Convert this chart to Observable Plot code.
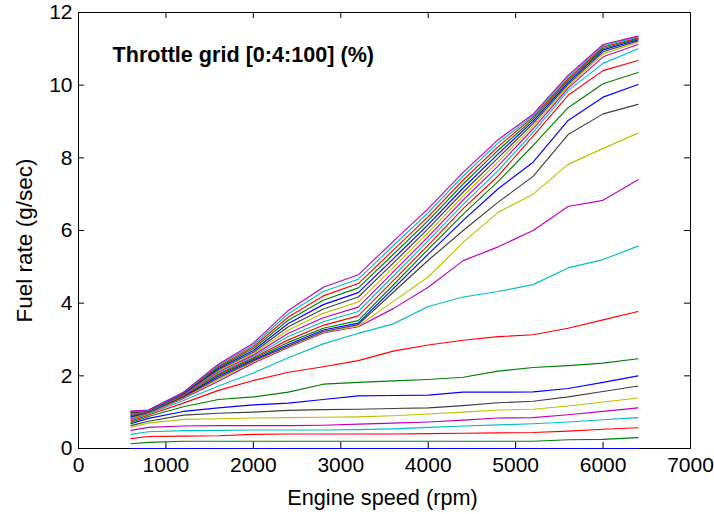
<!DOCTYPE html>
<html><head><meta charset="utf-8">
<script src="https://cdn.jsdelivr.net/npm/d3@7"></script>
<script src="https://cdn.jsdelivr.net/npm/@observablehq/plot@0.6"></script>
<style>html,body{margin:0;padding:0;background:#fff}svg{display:block}</style>
</head><body><div id="chart"></div>
<script>
const speeds = [600, 800, 1200, 1600, 2000, 2400, 2800, 3200, 3600, 4000, 4400, 4800, 5200, 5600, 6000, 6400];
const throttles = [0, 4, 8, 12, 16, 20, 24, 28, 32, 36, 40, 44, 48, 52, 56, 60, 64, 68, 72, 76, 80, 84, 88, 92, 96, 100];
const fuelRate = [
  [0,0,0,0,0,0,0,0,0,0,0,0,0,0,0,0],
  [0.13,0.17,0.2,0.2,0.2,0.2,0.2,0.2,0.2,0.2,0.2,0.2,0.2,0.24,0.25,0.3],
  [0.27,0.33,0.34,0.35,0.39,0.4,0.4,0.4,0.4,0.41,0.42,0.43,0.44,0.48,0.53,0.57],
  [0.39,0.46,0.49,0.5,0.51,0.51,0.51,0.52,0.54,0.58,0.62,0.65,0.68,0.73,0.79,0.85],
  [0.5,0.58,0.62,0.63,0.63,0.63,0.64,0.67,0.7,0.73,0.78,0.84,0.85,0.93,1.02,1.12],
  [0.58,0.7,0.8,0.82,0.84,0.85,0.86,0.87,0.9,0.95,1.0,1.06,1.08,1.17,1.28,1.39],
  [0.63,0.75,0.92,0.97,1.0,1.05,1.07,1.08,1.1,1.12,1.18,1.26,1.3,1.42,1.57,1.72],
  [0.68,0.83,1.02,1.12,1.2,1.25,1.35,1.45,1.46,1.47,1.55,1.55,1.56,1.65,1.82,2.0],
  [0.72,0.88,1.15,1.35,1.42,1.55,1.77,1.82,1.86,1.9,1.96,2.13,2.23,2.28,2.35,2.47],
  [0.76,0.92,1.25,1.6,1.87,2.1,2.25,2.42,2.68,2.85,2.98,3.08,3.13,3.31,3.54,3.77],
  [0.79,0.95,1.32,1.72,2.08,2.5,2.88,3.17,3.43,3.91,4.17,4.32,4.51,4.97,5.2,5.57],
  [0.82,0.97,1.38,1.85,2.35,2.78,3.18,3.35,3.85,4.44,5.17,5.55,6.0,6.66,6.83,7.4],
  [0.84,0.98,1.4,1.9,2.38,2.8,3.2,3.37,4.05,4.72,5.68,6.5,7.0,7.82,8.26,8.68],
  [0.86,0.99,1.42,1.94,2.41,2.82,3.22,3.41,4.3,5.18,6.0,6.78,7.49,8.64,9.21,9.47],
  [0.88,1.0,1.44,1.98,2.44,2.86,3.26,3.45,4.4,5.35,6.28,7.15,7.88,9.03,9.67,10.02],
  [0.9,1.0,1.45,2.02,2.47,2.92,3.31,3.52,4.5,5.48,6.45,7.35,8.34,9.38,10.04,10.35],
  [0.92,1.01,1.46,2.05,2.5,2.99,3.39,3.65,4.62,5.6,6.6,7.5,8.6,9.72,10.4,10.68],
  [0.94,1.02,1.47,2.08,2.53,3.08,3.49,3.77,4.74,5.72,6.72,7.65,8.7,9.85,10.6,11.0],
  [0.95,1.02,1.48,2.11,2.57,3.17,3.6,3.89,4.86,5.83,6.84,7.78,8.8,9.92,10.78,11.12],
  [0.97,1.03,1.49,2.14,2.61,3.26,3.72,4.03,4.98,5.94,6.95,7.89,8.88,9.97,10.86,11.18],
  [0.98,1.03,1.5,2.17,2.65,3.35,3.84,4.17,5.1,6.05,7.06,8.0,8.95,10.02,10.92,11.22],
  [0.99,1.04,1.51,2.2,2.7,3.44,3.96,4.29,5.22,6.16,7.17,8.11,9.01,10.07,10.97,11.25],
  [1.0,1.04,1.52,2.23,2.75,3.53,4.08,4.42,5.34,6.27,7.28,8.21,9.07,10.12,11.01,11.28],
  [1.01,1.05,1.53,2.26,2.8,3.62,4.2,4.54,5.46,6.38,7.39,8.31,9.12,10.17,11.05,11.3],
  [1.02,1.05,1.54,2.29,2.85,3.71,4.32,4.66,5.58,6.49,7.5,8.41,9.16,10.22,11.08,11.33],
  [1.03,1.06,1.55,2.32,2.9,3.8,4.44,4.78,5.7,6.6,7.6,8.5,9.2,10.27,11.12,11.35]
];
const lineColors = ["#0000ff", "#008000", "#ff0000", "#00bfbf", "#bf00bf", "#bfbf00", "#404040"];
const xTicks = [0, 1000, 2000, 3000, 4000, 5000, 6000, 7000];
const yTicks = [0, 2, 4, 6, 8, 10, 12];
const titleText = "Throttle grid [0:4:100] (%)";
const xLabel = "Engine speed (rpm)";
const yLabel = "Fuel rate (g/sec)";

const W = 714, H = 514, mL = 78, mR = 24, mT = 12, mB = 66;
const pW = W - mL - mR, pH = H - mT - mB, tk = 6;

const lines = throttles.map((t, i) =>
  Plot.line(speeds.map((s, j) => [s, fuelRate[i][j]]), {stroke: lineColors[i % 7], strokeWidth: 1.15})
);

const chart = Plot.plot({
  width: W, height: H,
  marginLeft: mL, marginRight: mR, marginTop: mT, marginBottom: mB,
  style: {fontFamily: "'Liberation Sans', Arial, sans-serif", fontSize: "21px", color: "#000", background: "#fff"},
  x: {domain: [0, 7000]},
  y: {domain: [0, 12]},
  marks: [
    Plot.frame({stroke: "#000", strokeWidth: 1}),
    Plot.tickX(xTicks, {x: d => d, insetTop: pH - tk, stroke: "#000"}),
    Plot.tickX(xTicks, {x: d => d, insetBottom: pH - tk, stroke: "#000"}),
    Plot.tickY(yTicks, {y: d => d, insetRight: pW - tk, stroke: "#000"}),
    Plot.tickY(yTicks, {y: d => d, insetLeft: pW - tk, stroke: "#000"}),
    Plot.axisX({ticks: xTicks, tickSize: 0, tickPadding: 9, tickFormat: d3.format("d"), label: null, fontSize: 21}),
    Plot.axisY({ticks: yTicks, tickSize: 0, tickPadding: 6, tickFormat: d3.format("d"), label: null, fontSize: 21}),
    ...lines,
    Plot.text([titleText], {frameAnchor: "top-left", dx: 34, dy: 43, textAnchor: "start", lineAnchor: "middle", fontWeight: "bold", fontSize: 21.6, fill: "#000"}),
    Plot.text([xLabel], {frameAnchor: "bottom", dx: -2, dy: 50, textAnchor: "middle", lineAnchor: "middle", fontSize: 21.7, fill: "#000"}),
    Plot.text([yLabel], {frameAnchor: "left", dx: -54, dy: 10, rotate: -90, textAnchor: "middle", lineAnchor: "middle", fontSize: 22.5, fill: "#000"})
  ]
});
document.getElementById("chart").appendChild(chart);
</script>
</body></html>
